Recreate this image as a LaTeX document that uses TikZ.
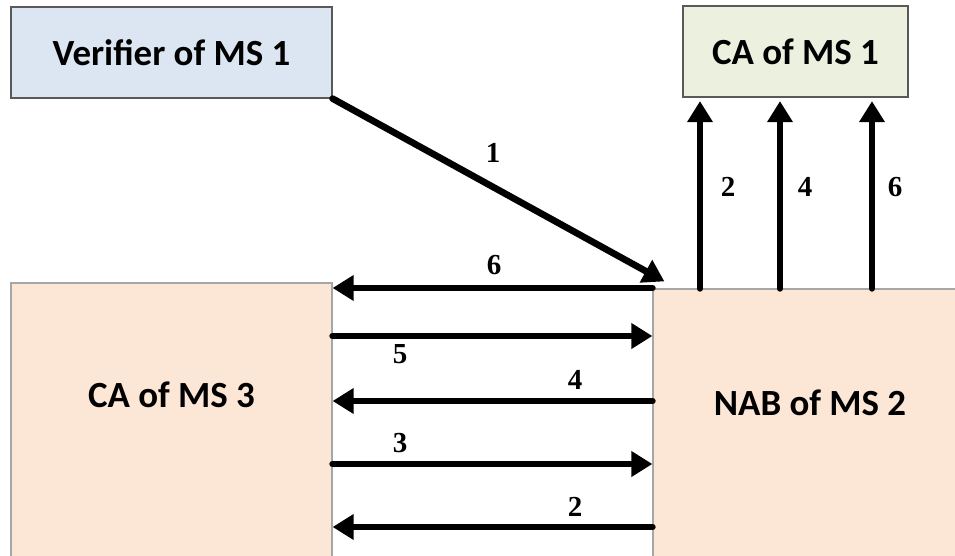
\documentclass[tikz,border=0pt]{standalone}
\usepackage{fontspec}
\newfontfamily\boxfont{Carlito}
\newfontfamily\numfont{Liberation Serif}
\usepackage{tikz}
\usetikzlibrary{arrows.meta, calc}
\definecolor{verblue}{HTML}{DCE6F2}
\definecolor{cagreen}{HTML}{EBF1DE}
\definecolor{peach}{HTML}{FCE6D6}
\definecolor{edgegray}{HTML}{595959}

\begin{document}
\begin{tikzpicture}[
    boxtext/.style={font=\boxfont\bfseries\fontsize{21}{25}\selectfont},
    msbox/.style={draw=edgegray, line width=0.7pt, align=center, boxtext},
    arrow/.style={-{Triangle[length=12pt, width=14pt]}, line width=3.8pt, line cap=round},
    num/.style={font=\numfont\bfseries\fontsize{16.5}{19}\selectfont}
]
    \useasboundingbox (0,0) rectangle (19.1,11.1);
    \clip (0,0) rectangle (19.1,11.1);

    \node[msbox, fill=verblue, minimum width=6.42cm, minimum height=1.82cm] (ver) at (3.43, 10.05) {Verifier of MS 1};
    \node[msbox, fill=cagreen, minimum width=4.5cm, minimum height=1.82cm] (ca1) at (15.91, 10.07) {CA of MS 1};
    \node[msbox, fill=peach, draw=gray!70, minimum width=6.42cm, minimum height=5.84cm,
        label={[boxtext, yshift=0.68cm]center:CA of MS 3}] (ca3) at (3.43, 2.52) {};
    \node[msbox, fill=peach, draw=gray!70, minimum width=6.28cm, minimum height=5.72cm,
        label={[boxtext, yshift=0.58cm]center:NAB of MS 2}] (nab) at (16.2, 2.46) {};

    % step 1
    \draw[arrow] (ver.south east) -- ($(nab.north west)+(0.24,0.14)$);
    \node[num] (n1) at (9.86, 8.04) {1};

    % between CA of MS 3 and NAB of MS 2
    \draw[arrow] (nab.west |- 0,5.34) -- (ca3.east |- 0,5.34);
    \draw[arrow] (ca3.east |- 0,4.38) -- (nab.west |- 0,4.38);
    \draw[arrow] (nab.west |- 0,3.08) -- (ca3.east |- 0,3.08);
    \draw[arrow] (ca3.east |- 0,1.82) -- (nab.west |- 0,1.82);
    \draw[arrow] (nab.west |- 0,0.56) -- (ca3.east |- 0,0.56);
    \node[num] (h6) at (9.88, 5.8) {6};
    \node[num] (h5) at (8.0, 4.02) {5};
    \node[num] (h4) at (11.5, 3.5) {4};
    \node[num] (h3) at (8.0, 2.24) {3};
    \node[num] (h2) at (11.5, 0.96) {2};

    % up to CA of MS 1
    \draw[arrow, shorten >=2pt] (nab.north -| 14.0,0) -- (ca1.south -| 14.0,0);
    \draw[arrow, shorten >=2pt] (nab.north -| 15.6,0) -- (ca1.south -| 15.6,0);
    \draw[arrow, shorten >=2pt] (nab.north -| 17.44,0) -- (ca1.south -| 17.44,0);
    \node[num] (v2) at (14.56, 7.36) {2};
    \node[num] (v4) at (16.1, 7.36) {4};
    \node[num] (v6) at (17.9, 7.36) {6};
\end{tikzpicture}
\end{document}
